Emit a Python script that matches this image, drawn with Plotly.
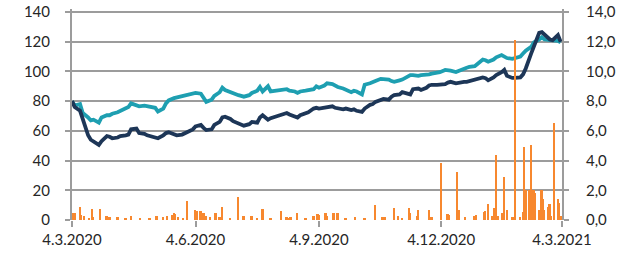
import pandas as pd
import plotly.graph_objects as go

# Line series: sampled every second business day from 4.3.2020 to 4.3.2021
line_dates = list(pd.bdate_range("2020-03-04", "2021-03-04")[::2])

navy_values = [
    80, 76, 73.5, 68, 57, 54, 53, 50.5, 53, 56.5,
    56, 55, 55.5, 56.5, 57, 57.5, 61, 61.5, 58.5, 58,
    57, 56.5, 55.5, 55, 57, 58.5, 59, 58, 57, 57.5,
    58.5, 59, 61, 63, 64, 62, 60.5, 61, 64, 66,
    69, 69.5, 68, 66.5, 65, 64, 63.5, 64.5, 66, 65.5,
    69, 70.5, 67.5, 68.5, 69.5, 70.5, 71, 72, 71, 70,
    69, 70.5, 72, 72.5, 75, 75.5, 75, 75.5, 76, 76.5,
    75.5, 75, 74.5, 75, 74, 74.5, 73.5, 72.7, 75, 77.5,
    78, 79.5, 80.5, 81.5, 81, 83, 84, 84.5, 86, 85,
    84.5, 88, 88.5, 87.5, 89, 90.5, 91, 91, 91, 91.5,
    92.5, 93, 92, 92.5, 93, 93, 93.5, 94, 95, 96,
    95.5, 94, 96, 97.5, 99.5, 101, 97, 95.6, 95.6, 96,
    98, 102, 112, 116.5, 126, 126.5, 125, 121.5, 121, 124.5,
    120,
]

teal_values = [
    80, 77, 78, 72, 69, 67, 67.5, 65.5, 69, 70.5,
    70.5, 71.5, 72.5, 73.5, 75.5, 76, 78.5, 77, 76.5, 77,
    76.5, 76, 75.5, 73, 75, 78.5, 80.5, 82, 82.5, 83.5,
    84, 84.5, 85.5, 85.5, 85, 82, 79.5, 81, 83.5, 86,
    89, 87.5, 86, 85, 84, 83.5, 83, 84, 85.5, 87,
    89.5, 86.5, 90, 86.5, 87, 87.5, 87.5, 88, 87, 86.5,
    85.5, 86.5, 87, 87.5, 88, 90, 89, 90.5, 92, 91.5,
    90.5, 89.5, 88.5, 87.5, 86, 87, 86.5, 84.5, 91, 92,
    93, 93.5, 95, 95, 94.5, 93.5, 93, 94, 94.5, 96.5,
    97.5, 97.5, 97, 97.5, 97.5, 98, 98.5, 99, 99.5, 101,
    101, 100.5, 99.6, 100.5, 102, 102.5, 103, 103.5, 105, 108,
    107.5, 106.5, 108, 109.5, 111, 110, 109, 108.5, 109, 110,
    112, 114, 116.5, 119.5, 121.5, 123, 121.5, 121, 120.5, 120.5,
    119.5,
]

bar_dates = [
    "2020-03-05", "2020-03-06", "2020-03-10", "2020-03-11", "2020-03-13", "2020-03-17",
    "2020-03-19", "2020-03-20", "2020-03-25", "2020-03-30", "2020-04-01", "2020-04-07",
    "2020-04-13", "2020-04-17", "2020-04-24", "2020-05-01", "2020-05-06", "2020-05-11",
    "2020-05-14", "2020-05-18", "2020-05-19", "2020-05-20", "2020-05-22", "2020-05-26",
    "2020-05-29", "2020-06-04", "2020-06-05", "2020-06-08", "2020-06-10", "2020-06-12",
    "2020-06-15", "2020-06-19", "2020-06-22", "2020-06-24", "2020-06-30", "2020-07-06",
    "2020-07-10", "2020-07-16", "2020-07-20", "2020-07-24", "2020-07-30", "2020-08-07",
    "2020-08-11", "2020-08-13", "2020-08-14", "2020-08-19", "2020-08-25", "2020-08-31",
    "2020-09-03", "2020-09-04", "2020-09-09", "2020-09-10", "2020-09-15", "2020-09-18",
    "2020-09-24", "2020-10-01", "2020-10-08", "2020-10-16", "2020-10-21", "2020-10-23",
    "2020-10-30", "2020-11-02", "2020-11-05", "2020-11-10", "2020-11-11", "2020-11-16",
    "2020-11-17", "2020-11-25", "2020-11-27", "2020-12-04", "2020-12-09", "2020-12-10",
    "2020-12-16", "2020-12-17", "2020-12-22", "2020-12-29", "2020-12-30", "2021-01-05",
    "2021-01-06", "2021-01-08", "2021-01-11", "2021-01-13", "2021-01-14", "2021-01-15",
    "2021-01-19", "2021-01-20", "2021-01-22", "2021-01-26", "2021-01-27", "2021-01-28",
    "2021-02-01", "2021-02-03", "2021-02-04", "2021-02-05", "2021-02-08", "2021-02-09",
    "2021-02-10", "2021-02-11", "2021-02-12", "2021-02-15", "2021-02-17", "2021-02-18",
    "2021-02-19", "2021-02-22", "2021-02-23", "2021-02-24", "2021-02-26", "2021-03-01",
    "2021-03-02", "2021-03-03",
]
bar_values = [
    0.5, 0.45, 0.9, 0.35, 0.3, 0.15,
    0.75, 0.2, 0.75, 0.3, 0.2, 0.2,
    0.1, 0.3, 0.1, 0.1, 0.3, 0.2,
    0.3, 0.35, 0.45, 0.4, 0.2, 0.1,
    1.28, 0.7, 0.6, 0.6, 0.45, 0.3,
    0.2, 0.45, 0.2, 0.85, 0.1, 1.57,
    0.3, 0.3, 0.1, 0.75, 0.1, 0.6,
    0.2, 0.15, 0.2, 0.45, 0.1, 0.3,
    0.4, 0.35, 0.5, 0.3, 0.45, 0.45,
    0.1, 0.2, 0.1, 1.0, 0.2, 0.2,
    0.8, 0.3, 0.1, 0.8, 0.5, 0.3,
    0.65, 0.65, 0.2, 3.85, 0.4, 0.35,
    3.2, 0.65, 0.2, 0.3, 0.35, 0.55,
    0.6, 1.1, 0.3, 0.8, 4.4, 0.3,
    0.5, 2.9, 0.65, 0.2, 0.2, 12.1,
    0.2, 0.55, 4.9, 2.0, 2.0, 5.05,
    2.0, 2.0, 1.8, 0.65, 2.05, 1.4,
    0.65, 0.85, 1.1, 0.3, 6.5, 1.4,
    1.15, 0.3,
]

x_tick_vals = ["2020-03-04", "2020-06-04", "2020-09-04", "2020-12-04", "2021-03-04"]
x_tick_text = ["4.3.2020", "4.6.2020", "4.9.2020", "4.12.2020", "4.3.2021"]
left_ticks = [0, 20, 40, 60, 80, 100, 120, 140]
right_ticks = [0, 2, 4, 6, 8, 10, 12, 14]
left_max = 142

NAVY = "#1d3657"
TEAL = "#1e9fb1"
ORANGE = "#f7882f"
GRID = "#9c9c9c"
TEXT = "#262626"

fig = go.Figure()
fig.add_trace(go.Scatter(x=line_dates, y=teal_values, mode="lines",
                         line=dict(color=TEAL, width=3.8), yaxis="y", showlegend=False))
fig.add_trace(go.Scatter(x=line_dates, y=navy_values, mode="lines",
                         line=dict(color=NAVY, width=3.8), yaxis="y", showlegend=False))
fig.add_trace(go.Bar(x=pd.to_datetime(bar_dates), y=bar_values, marker=dict(color=ORANGE, line=dict(width=0)),
                     width=1.4 * 86400000, yaxis="y2", showlegend=False))

# Top gridline drawn in paper coordinates so that it is never clipped away
fig.add_shape(type="line", xref="paper", x0=-0.01, x1=1.01, yref="paper",
              y0=left_ticks[-1] / left_max, y1=left_ticks[-1] / left_max,
              line=dict(color=GRID, width=2), layer="below")

fig.update_layout(
    width=631, height=258,
    margin=dict(l=72, r=69, t=9, b=38, autoexpand=False),
    paper_bgcolor="white", plot_bgcolor="white",
    font=dict(family="Lato", size=15, color=TEXT),
    separators=",.",
    xaxis=dict(
        type="date", range=["2020-03-04", "2021-03-04"], automargin=False,
        tickmode="array", tickvals=x_tick_vals, ticktext=x_tick_text,
        ticks="outside", ticklen=6, tickwidth=2, tickcolor=GRID,
        showgrid=False, showline=False, zeroline=False, ticklabeloverflow="allow",
    ),
    yaxis=dict(
        range=[0, left_max], tickmode="array", tickvals=left_ticks,
        showgrid=True, gridcolor=GRID, gridwidth=2, automargin=False,
        showline=True, linecolor=GRID, linewidth=2,
        ticks="outside", ticklen=5, tickwidth=2, tickcolor=GRID,
        zeroline=False, ticklabelstandoff=12, ticklabeloverflow="allow",
    ),
    yaxis2=dict(
        range=[0, left_max / 10], overlaying="y", side="right", automargin=False,
        tickmode="array", tickvals=right_ticks, tickformat=".1f",
        showgrid=False, showline=True, linecolor=GRID, linewidth=2,
        ticks="outside", ticklen=5, tickwidth=2, tickcolor=GRID,
        zeroline=False, ticklabelstandoff=14, ticklabeloverflow="allow",
    ),
    bargap=0,
)

fig.write_html("out.html", config={"displayModeBar": False},
               post_script="document.body.style.margin='0';")
